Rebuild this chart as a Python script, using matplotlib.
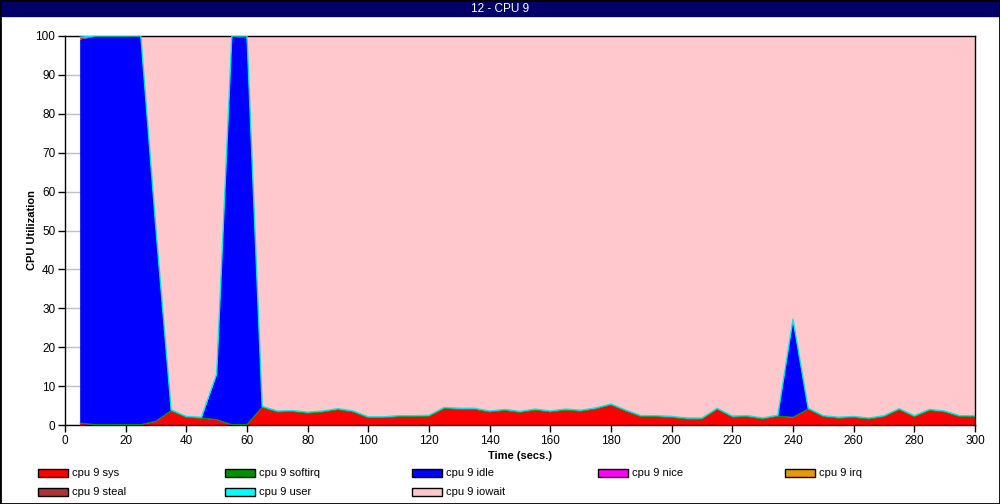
import matplotlib.pyplot as plt
from matplotlib.patches import Rectangle
import numpy as np

plt.rcParams['font.family'] = ['Liberation Sans', 'DejaVu Sans']

# time axis (secs.)
t = list(range(5, 301, 5))

# cpu 9 values (percent)
sys_ = [0.4, 0, 0, 0, 0, 0.9, 3.6, 1.9, 1.7, 1.3,
        0, 0, 4.5, 3.3, 3.4, 3.0, 3.3, 3.9, 3.3, 1.8,
        1.8, 2.1, 2.1, 2.2, 4.2, 4.0, 4.0, 3.3, 3.7, 3.2,
        3.8, 3.3, 3.8, 3.5, 4.1, 5.1, 3.5, 2.1, 2.1, 1.9,
        1.5, 1.5, 4.0, 2.0, 2.1, 1.5, 2.2, 1.9, 4.0, 2.1,
        1.7, 1.9, 1.5, 2.1, 3.9, 2.1, 3.7, 3.3, 2.1, 2.1]
softirq = [0.1] * 60
idle = [98.6, 99.7, 99.7, 99.7, 99.7, 49.0, 0, 0, 0, 11.5,
        99.7, 99.3, 0, 0, 0, 0, 0, 0, 0, 0,
        0, 0, 0, 0, 0, 0, 0, 0, 0, 0,
        0, 0, 0, 0, 0, 0, 0, 0, 0, 0,
        0, 0, 0, 0, 0, 0, 0, 25.0, 0, 0,
        0, 0, 0, 0, 0, 0, 0, 0, 0, 0]
nice = [0] * 60
irq = [0] * 60
steal = [0.4] + [0] * 10 + [0.4] + [0] * 48
user = [0.2] * 60
iowait = [0.3, 0, 0, 0, 0, 49.8, 96.1, 97.8, 98.0, 86.9,
          0, 0, 95.2, 96.4, 96.3, 96.7, 96.4, 95.8, 96.4, 97.9,
          97.9, 97.6, 97.6, 97.5, 95.5, 95.7, 95.7, 96.4, 96.0, 96.5,
          95.9, 96.4, 95.9, 96.2, 95.6, 94.6, 96.2, 97.6, 97.6, 97.8,
          98.2, 98.2, 95.7, 97.7, 97.6, 98.2, 97.5, 72.8, 95.7, 97.6,
          98.0, 97.8, 98.2, 97.6, 95.8, 97.6, 96.0, 96.4, 97.6, 97.6]

labels = ['cpu 9 sys', 'cpu 9 softirq', 'cpu 9 idle', 'cpu 9 nice', 'cpu 9 irq',
          'cpu 9 steal', 'cpu 9 user', 'cpu 9 iowait']
colors = ['#ff0000', '#009000', '#0000ff', '#ff00ff', '#e69a00',
          '#a83434', '#00ffff', '#ffc8cc']

W, H = 1000, 504
fig = plt.figure(figsize=(10, 5.04), dpi=100)

# title bar
fig.patches.append(Rectangle((0, 1 - 16 / H), 1, 16 / H, transform=fig.transFigure,
                             color='#000066', zorder=0))
fig.text(0.5, 1 - 8.5 / H, '12 - CPU 9', color='white', fontsize=8.5,
         ha='center', va='center')
# outer border
fig.patches.append(Rectangle((0, 0), 1, 1, transform=fig.transFigure, fill=False,
                             edgecolor='black', lw=2, zorder=5))

ax = fig.add_axes([65 / W, 79 / H, 910 / W, 389 / H])
ax.stackplot(t, sys_, softirq, idle, nice, irq, steal, user, iowait,
             colors=colors, linewidth=0, zorder=2)
top_user = np.sum([sys_, softirq, idle, nice, irq, steal, user], axis=0)
top_soft = np.sum([sys_, softirq], axis=0)
ax.plot(t, top_soft, color='#009000', lw=0.8, zorder=3)
ax.plot(t, top_user, color='#00e8e8', lw=1.0, zorder=3)

ax.set_xlim(0, 300)
ax.set_ylim(0, 100)
ax.set_xticks(range(0, 301, 20))
ax.set_yticks(range(0, 101, 10))
ax.yaxis.grid(True, color='#c0c0c0', lw=1)
ax.set_axisbelow(True)
ax.tick_params(direction='out', length=5, width=1, labelsize=8.5, pad=2)
for s in ax.spines.values():
    s.set_linewidth(1)
ax.set_xlabel('Time (secs.)', fontsize=8, fontweight='bold', labelpad=3)
ax.set_ylabel('CPU Utilization', fontsize=8, fontweight='bold')
ax.yaxis.set_label_coords(-28 / 910, 0.5)

# legend, two rows of five
col_x = [38, 225, 412, 598, 785]
row_y = [472.5, 492]
for i, (lab, c) in enumerate(zip(labels, colors)):
    x = col_x[i % 5]
    y = row_y[i // 5]
    fig.patches.append(Rectangle((x / W, 1 - (y + 4) / H), 30 / W, 8 / H,
                                 transform=fig.transFigure, facecolor=c,
                                 edgecolor='black', lw=1))
    fig.text((x + 34) / W, 1 - y / H, lab, fontsize=8, ha='left', va='center')

fig.savefig('out.png', dpi=100)
